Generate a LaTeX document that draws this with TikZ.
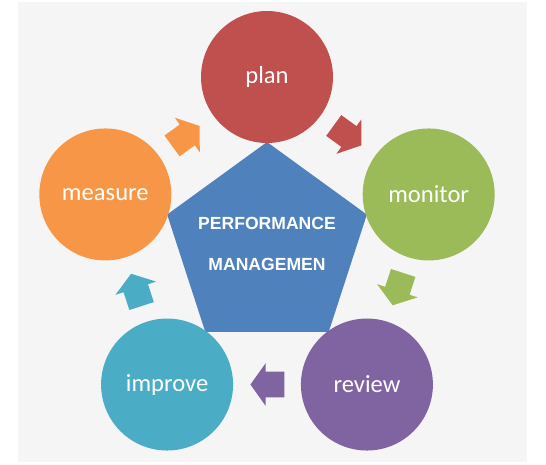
\documentclass[tikz,border=0pt]{standalone}
\usepackage{fontspec}
\setmainfont{Carlito}
\newfontfamily\hubfont{Liberation Sans}
\usetikzlibrary{shapes.geometric,shapes.arrows,calc}

\definecolor{planred}{HTML}{C0504D}
\definecolor{monitorgreen}{HTML}{9BBB59}
\definecolor{reviewpurple}{HTML}{8064A2}
\definecolor{improveteal}{HTML}{4BACC6}
\definecolor{measureorange}{HTML}{F79646}
\definecolor{hubblue}{HTML}{4F81BD}
\definecolor{backgray}{HTML}{F5F5F5}

\begin{document}
\begin{tikzpicture}[x=0.02cm, y=0.02cm,
  stage/.style={circle, minimum size=2.64cm, inner sep=0pt, text=white,
    font=\fontsize{14}{16}\selectfont},
  flow/.style={single arrow, minimum height=0.68cm, inner xsep=0pt, inner ysep=0.25cm,
    single arrow head extend=0.17cm, single arrow tip angle=109},
  hub/.style={regular polygon, regular polygon sides=5, minimum size=4.2cm,
    inner sep=0pt, fill=hubblue}]
  \useasboundingbox (-267,-218) rectangle (279,247);
  \fill[backgray] (-249,-215) rectangle (260,245);
  % centre pentagon
  \node[hub] (pm) at (0,0) {};
  \node[text=white, font=\hubfont\bfseries\fontsize{10}{23.8}\selectfont, align=center]
    (pmtext) at (0,3) {PERFORMANCE\\MANAGEMEN};
  % the five stages
  \foreach \name/\ang/\col in {plan/90/planred, monitor/18/monitorgreen,
      review/-54/reviewpurple, improve/-126/improveteal, measure/162/measureorange}
    \node[stage, fill=\col] (\name) at (\ang:170) {\name};
  % block arrows between stages
  \foreach \from/\to/\dir/\col in {plan/monitor/-36/planred,
      monitor/review/-108/monitorgreen, review/improve/180/reviewpurple,
      improve/measure/108/improveteal, measure/plan/36/measureorange}
    \node[flow, fill=\col, rotate=\dir, xshift=-0.1cm] (\from-\to) at ($(\from)!0.5!(\to)$) {};
\end{tikzpicture}
\end{document}
